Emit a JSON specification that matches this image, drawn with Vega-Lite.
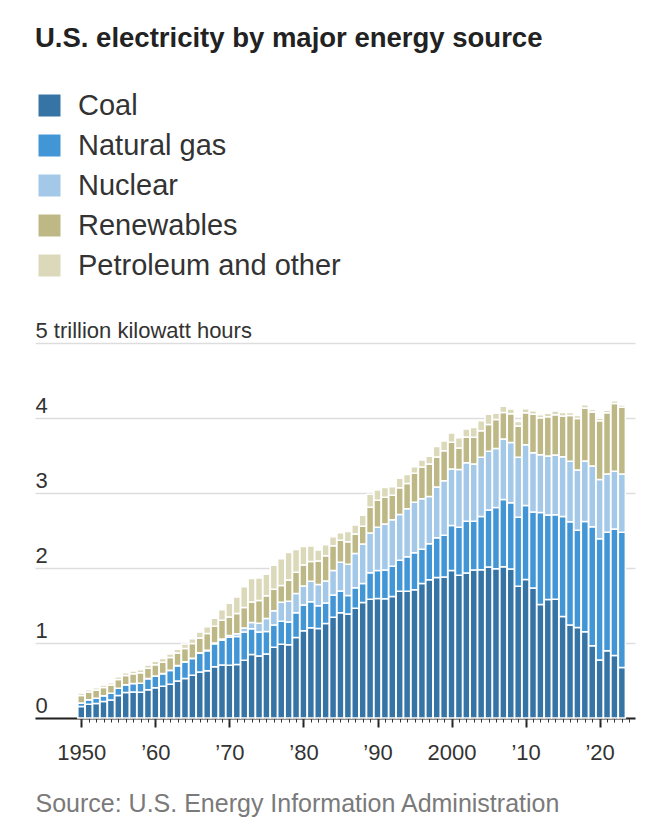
{
  "$schema": "https://vega.github.io/schema/vega-lite/v6.json",
  "width": 600,
  "height": 375,
  "padding": {"left": 35, "right": 13, "top": 24, "bottom": 10},
  "background": "white",
  "config": {"view": {"stroke": null}, "font": "Liberation Sans"},
  "title": {
    "text": "U.S. electricity by major energy source",
    "anchor": "start",
    "font": "Liberation Sans",
    "fontSize": 27.5,
    "fontWeight": "bold",
    "color": "#222222",
    "offset": 39
  },
  "data": {
    "values": [
      {"year": 1950, "Coal": 0.155, "Natural gas": 0.045, "Nuclear": 0, "Renewables": 0.101, "Petroleum and other": 0.034},
      {"year": 1951, "Coal": 0.185, "Natural gas": 0.057, "Nuclear": 0, "Renewables": 0.105, "Petroleum and other": 0.029},
      {"year": 1952, "Coal": 0.195, "Natural gas": 0.068, "Nuclear": 0, "Renewables": 0.110, "Petroleum and other": 0.030},
      {"year": 1953, "Coal": 0.219, "Natural gas": 0.078, "Nuclear": 0, "Renewables": 0.110, "Petroleum and other": 0.032},
      {"year": 1954, "Coal": 0.239, "Natural gas": 0.090, "Nuclear": 0, "Renewables": 0.112, "Petroleum and other": 0.030},
      {"year": 1955, "Coal": 0.301, "Natural gas": 0.095, "Nuclear": 0, "Renewables": 0.117, "Petroleum and other": 0.037},
      {"year": 1956, "Coal": 0.339, "Natural gas": 0.104, "Nuclear": 0, "Renewables": 0.123, "Petroleum and other": 0.037},
      {"year": 1957, "Coal": 0.346, "Natural gas": 0.114, "Nuclear": 0, "Renewables": 0.131, "Petroleum and other": 0.037},
      {"year": 1958, "Coal": 0.344, "Natural gas": 0.119, "Nuclear": 0.0002, "Renewables": 0.141, "Petroleum and other": 0.038},
      {"year": 1959, "Coal": 0.378, "Natural gas": 0.147, "Nuclear": 0.0002, "Renewables": 0.139, "Petroleum and other": 0.041},
      {"year": 1960, "Coal": 0.403, "Natural gas": 0.158, "Nuclear": 0.0005, "Renewables": 0.147, "Petroleum and other": 0.048},
      {"year": 1961, "Coal": 0.422, "Natural gas": 0.169, "Nuclear": 0.0017, "Renewables": 0.152, "Petroleum and other": 0.049},
      {"year": 1962, "Coal": 0.450, "Natural gas": 0.184, "Nuclear": 0.0023, "Renewables": 0.169, "Petroleum and other": 0.049},
      {"year": 1963, "Coal": 0.494, "Natural gas": 0.202, "Nuclear": 0.0032, "Renewables": 0.166, "Petroleum and other": 0.052},
      {"year": 1964, "Coal": 0.526, "Natural gas": 0.220, "Nuclear": 0.0033, "Renewables": 0.178, "Petroleum and other": 0.058},
      {"year": 1965, "Coal": 0.571, "Natural gas": 0.222, "Nuclear": 0.0037, "Renewables": 0.195, "Petroleum and other": 0.065},
      {"year": 1966, "Coal": 0.614, "Natural gas": 0.251, "Nuclear": 0.0055, "Renewables": 0.196, "Petroleum and other": 0.079},
      {"year": 1967, "Coal": 0.631, "Natural gas": 0.265, "Nuclear": 0.0077, "Renewables": 0.223, "Petroleum and other": 0.089},
      {"year": 1968, "Coal": 0.685, "Natural gas": 0.304, "Nuclear": 0.0125, "Renewables": 0.223, "Petroleum and other": 0.104},
      {"year": 1969, "Coal": 0.706, "Natural gas": 0.333, "Nuclear": 0.0139, "Renewables": 0.251, "Petroleum and other": 0.138},
      {"year": 1970, "Coal": 0.704, "Natural gas": 0.373, "Nuclear": 0.0218, "Renewables": 0.248, "Petroleum and other": 0.184},
      {"year": 1971, "Coal": 0.713, "Natural gas": 0.374, "Nuclear": 0.038, "Renewables": 0.267, "Petroleum and other": 0.220},
      {"year": 1972, "Coal": 0.771, "Natural gas": 0.376, "Nuclear": 0.054, "Renewables": 0.274, "Petroleum and other": 0.274},
      {"year": 1973, "Coal": 0.848, "Natural gas": 0.341, "Nuclear": 0.084, "Renewables": 0.274, "Petroleum and other": 0.314},
      {"year": 1974, "Coal": 0.828, "Natural gas": 0.320, "Nuclear": 0.114, "Renewables": 0.304, "Petroleum and other": 0.301},
      {"year": 1975, "Coal": 0.853, "Natural gas": 0.300, "Nuclear": 0.173, "Renewables": 0.303, "Petroleum and other": 0.289},
      {"year": 1976, "Coal": 0.944, "Natural gas": 0.295, "Nuclear": 0.191, "Renewables": 0.288, "Petroleum and other": 0.320},
      {"year": 1977, "Coal": 0.985, "Natural gas": 0.306, "Nuclear": 0.251, "Renewables": 0.224, "Petroleum and other": 0.358},
      {"year": 1978, "Coal": 0.976, "Natural gas": 0.305, "Nuclear": 0.276, "Renewables": 0.284, "Petroleum and other": 0.365},
      {"year": 1979, "Coal": 1.075, "Natural gas": 0.330, "Nuclear": 0.255, "Renewables": 0.284, "Petroleum and other": 0.304},
      {"year": 1980, "Coal": 1.162, "Natural gas": 0.346, "Nuclear": 0.251, "Renewables": 0.281, "Petroleum and other": 0.246},
      {"year": 1981, "Coal": 1.203, "Natural gas": 0.346, "Nuclear": 0.273, "Renewables": 0.266, "Petroleum and other": 0.206},
      {"year": 1982, "Coal": 1.192, "Natural gas": 0.305, "Nuclear": 0.283, "Renewables": 0.314, "Petroleum and other": 0.147},
      {"year": 1983, "Coal": 1.259, "Natural gas": 0.274, "Nuclear": 0.294, "Renewables": 0.338, "Petroleum and other": 0.145},
      {"year": 1984, "Coal": 1.342, "Natural gas": 0.297, "Nuclear": 0.328, "Renewables": 0.329, "Petroleum and other": 0.120},
      {"year": 1985, "Coal": 1.402, "Natural gas": 0.292, "Nuclear": 0.384, "Renewables": 0.292, "Petroleum and other": 0.100},
      {"year": 1986, "Coal": 1.386, "Natural gas": 0.249, "Nuclear": 0.414, "Renewables": 0.302, "Petroleum and other": 0.137},
      {"year": 1987, "Coal": 1.464, "Natural gas": 0.273, "Nuclear": 0.455, "Renewables": 0.262, "Petroleum and other": 0.119},
      {"year": 1988, "Coal": 1.541, "Natural gas": 0.253, "Nuclear": 0.527, "Renewables": 0.235, "Petroleum and other": 0.149},
      {"year": 1989, "Coal": 1.584, "Natural gas": 0.353, "Nuclear": 0.529, "Renewables": 0.343, "Petroleum and other": 0.174},
      {"year": 1990, "Coal": 1.594, "Natural gas": 0.373, "Nuclear": 0.577, "Renewables": 0.359, "Petroleum and other": 0.137},
      {"year": 1991, "Coal": 1.591, "Natural gas": 0.382, "Nuclear": 0.613, "Renewables": 0.358, "Petroleum and other": 0.131},
      {"year": 1992, "Coal": 1.621, "Natural gas": 0.404, "Nuclear": 0.619, "Renewables": 0.327, "Petroleum and other": 0.113},
      {"year": 1993, "Coal": 1.690, "Natural gas": 0.415, "Nuclear": 0.610, "Renewables": 0.356, "Petroleum and other": 0.125},
      {"year": 1994, "Coal": 1.691, "Natural gas": 0.460, "Nuclear": 0.640, "Renewables": 0.337, "Petroleum and other": 0.118},
      {"year": 1995, "Coal": 1.709, "Natural gas": 0.496, "Nuclear": 0.673, "Renewables": 0.384, "Petroleum and other": 0.087},
      {"year": 1996, "Coal": 1.795, "Natural gas": 0.455, "Nuclear": 0.675, "Renewables": 0.422, "Petroleum and other": 0.093},
      {"year": 1997, "Coal": 1.845, "Natural gas": 0.479, "Nuclear": 0.629, "Renewables": 0.433, "Petroleum and other": 0.104},
      {"year": 1998, "Coal": 1.874, "Natural gas": 0.531, "Nuclear": 0.674, "Renewables": 0.400, "Petroleum and other": 0.141},
      {"year": 1999, "Coal": 1.881, "Natural gas": 0.556, "Nuclear": 0.728, "Renewables": 0.398, "Petroleum and other": 0.130},
      {"year": 2000, "Coal": 1.966, "Natural gas": 0.601, "Nuclear": 0.754, "Renewables": 0.357, "Petroleum and other": 0.123},
      {"year": 2001, "Coal": 1.904, "Natural gas": 0.639, "Nuclear": 0.769, "Renewables": 0.288, "Petroleum and other": 0.137},
      {"year": 2002, "Coal": 1.933, "Natural gas": 0.691, "Nuclear": 0.780, "Renewables": 0.343, "Petroleum and other": 0.106},
      {"year": 2003, "Coal": 1.974, "Natural gas": 0.650, "Nuclear": 0.764, "Renewables": 0.355, "Petroleum and other": 0.131},
      {"year": 2004, "Coal": 1.978, "Natural gas": 0.710, "Nuclear": 0.789, "Renewables": 0.352, "Petroleum and other": 0.135},
      {"year": 2005, "Coal": 2.013, "Natural gas": 0.761, "Nuclear": 0.782, "Renewables": 0.358, "Petroleum and other": 0.137},
      {"year": 2006, "Coal": 1.991, "Natural gas": 0.816, "Nuclear": 0.787, "Renewables": 0.386, "Petroleum and other": 0.083},
      {"year": 2007, "Coal": 2.017, "Natural gas": 0.897, "Nuclear": 0.806, "Renewables": 0.353, "Petroleum and other": 0.085},
      {"year": 2008, "Coal": 1.986, "Natural gas": 0.883, "Nuclear": 0.806, "Renewables": 0.381, "Petroleum and other": 0.063},
      {"year": 2009, "Coal": 1.756, "Natural gas": 0.921, "Nuclear": 0.799, "Renewables": 0.418, "Petroleum and other": 0.058},
      {"year": 2010, "Coal": 1.847, "Natural gas": 0.988, "Nuclear": 0.807, "Renewables": 0.427, "Petroleum and other": 0.055},
      {"year": 2011, "Coal": 1.733, "Natural gas": 1.014, "Nuclear": 0.790, "Renewables": 0.513, "Petroleum and other": 0.046},
      {"year": 2012, "Coal": 1.514, "Natural gas": 1.226, "Nuclear": 0.769, "Renewables": 0.495, "Petroleum and other": 0.041},
      {"year": 2013, "Coal": 1.581, "Natural gas": 1.125, "Nuclear": 0.789, "Renewables": 0.522, "Petroleum and other": 0.045},
      {"year": 2014, "Coal": 1.582, "Natural gas": 1.127, "Nuclear": 0.797, "Renewables": 0.539, "Petroleum and other": 0.048},
      {"year": 2015, "Coal": 1.352, "Natural gas": 1.334, "Nuclear": 0.797, "Renewables": 0.544, "Petroleum and other": 0.046},
      {"year": 2016, "Coal": 1.239, "Natural gas": 1.378, "Nuclear": 0.806, "Renewables": 0.610, "Petroleum and other": 0.042},
      {"year": 2017, "Coal": 1.206, "Natural gas": 1.296, "Nuclear": 0.805, "Renewables": 0.688, "Petroleum and other": 0.037},
      {"year": 2018, "Coal": 1.150, "Natural gas": 1.469, "Nuclear": 0.807, "Renewables": 0.707, "Petroleum and other": 0.043},
      {"year": 2019, "Coal": 0.965, "Natural gas": 1.586, "Nuclear": 0.809, "Renewables": 0.721, "Petroleum and other": 0.033},
      {"year": 2020, "Coal": 0.773, "Natural gas": 1.618, "Nuclear": 0.790, "Renewables": 0.783, "Petroleum and other": 0.033},
      {"year": 2021, "Coal": 0.898, "Natural gas": 1.579, "Nuclear": 0.778, "Renewables": 0.815, "Petroleum and other": 0.035},
      {"year": 2022, "Coal": 0.832, "Natural gas": 1.687, "Nuclear": 0.772, "Renewables": 0.901, "Petroleum and other": 0.038},
      {"year": 2023, "Coal": 0.675, "Natural gas": 1.802, "Nuclear": 0.775, "Renewables": 0.892, "Petroleum and other": 0.031}
    ]
  },
  "transform": [
    {"fold": ["Coal", "Natural gas", "Nuclear", "Renewables", "Petroleum and other"], "as": ["source", "value"]},
    {"calculate": "indexof(['Coal', 'Natural gas', 'Nuclear', 'Renewables', 'Petroleum and other'], datum.source)", "as": "k"}
  ],
  "resolve": {"axis": {"x": "independent"}},
  "layer": [
    {
      "mark": {"type": "bar", "size": 7, "stroke": "white", "strokeWidth": 1.5},
      "encoding": {
        "x": {
          "field": "year",
          "type": "quantitative",
          "scale": {"domain": [1944.42, 2024.1], "nice": false, "zero": false},
          "axis": {
            "orient": "bottom",
            "values": [1950, 1960, 1970, 1980, 1990, 2000, 2010, 2020],
            "labelExpr": "datum.value == 1950 || datum.value == 2000 ? '' + datum.value : '\u2019' + substring('' + datum.value, 2, 4)",
            "grid": false,
            "domain": true,
            "domainColor": "#222222",
            "domainWidth": 2,
            "ticks": true,
            "tickSize": 9,
            "tickWidth": 2,
            "tickColor": "#222222",
            "labelFont": "Liberation Sans",
            "labelFontSize": 22,
            "labelColor": "#333333",
            "labelPadding": 15,
            "labelFlush": false,
            "labelOverlap": false,
            "labelLimit": 400,
            "title": "Source: U.S. Energy Information Administration",
            "titleFont": "Liberation Sans",
            "titleFontSize": 25,
            "titleFontWeight": "normal",
            "titleColor": "#7a7a7a",
            "titleAnchor": "start",
            "titleAlign": "left",
            "titlePadding": 28,
            "titleLimit": 700
          }
        },
        "y": {
          "field": "value",
          "type": "quantitative",
          "stack": "zero",
          "scale": {"domain": [0, 5], "nice": false},
          "axis": {
            "values": [0, 1, 2, 3, 4, 5],
            "labelExpr": "datum.value == 5 ? '5 trillion kilowatt hours' : datum.label",
            "domain": false,
            "ticks": false,
            "tickSize": 0,
            "grid": true,
            "gridColor": "#dddddd",
            "gridWidth": 1.5,
            "labelAlign": "left",
            "labelBaseline": "alphabetic",
            "labelPadding": 0,
            "labelOffset": -6,
            "labelFont": "Liberation Sans",
            "labelFontSize": 22,
            "labelColor": "#333333",
            "labelLimit": 400,
            "title": null
          }
        },
        "color": {
          "field": "source",
          "type": "nominal",
          "scale": {
            "domain": ["Coal", "Natural gas", "Nuclear", "Renewables", "Petroleum and other"],
            "range": ["#3774a6", "#4396d6", "#a3c8e8", "#bdb886", "#dbd9ba"]
          },
          "legend": {
            "orient": "top",
            "direction": "vertical",
            "title": null,
            "symbolType": "square",
            "symbolSize": 484,
            "symbolStrokeWidth": 0,
            "symbolOpacity": 1,
            "labelFont": "Liberation Sans",
            "labelFontSize": 29,
            "labelColor": "#333333",
            "labelOffset": 14,
            "labelLimit": 500,
            "rowPadding": 10,
            "offset": 62
          }
        },
        "order": {"field": "k", "type": "quantitative", "sort": "ascending"}
      }
    },
    {
      "mark": {"type": "rule", "opacity": 0},
      "encoding": {
        "x": {
          "field": "year",
          "type": "quantitative",
          "axis": {
            "orient": "bottom",
            "values": [1950,1951,1952,1953,1954,1955,1956,1957,1958,1959,1960,1961,1962,1963,1964,1965,1966,1967,1968,1969,1970,1971,1972,1973,1974,1975,1976,1977,1978,1979,1980,1981,1982,1983,1984,1985,1986,1987,1988,1989,1990,1991,1992,1993,1994,1995,1996,1997,1998,1999,2000,2001,2002,2003,2004,2005,2006,2007,2008,2009,2010,2011,2012,2013,2014,2015,2016,2017,2018,2019,2020,2021,2022,2023,2024],
            "labels": false,
            "domain": false,
            "grid": false,
            "ticks": true,
            "tickSize": 4,
            "tickWidth": 1,
            "tickColor": "#333333",
            "title": null
          }
        }
      }
    }
  ]
}
